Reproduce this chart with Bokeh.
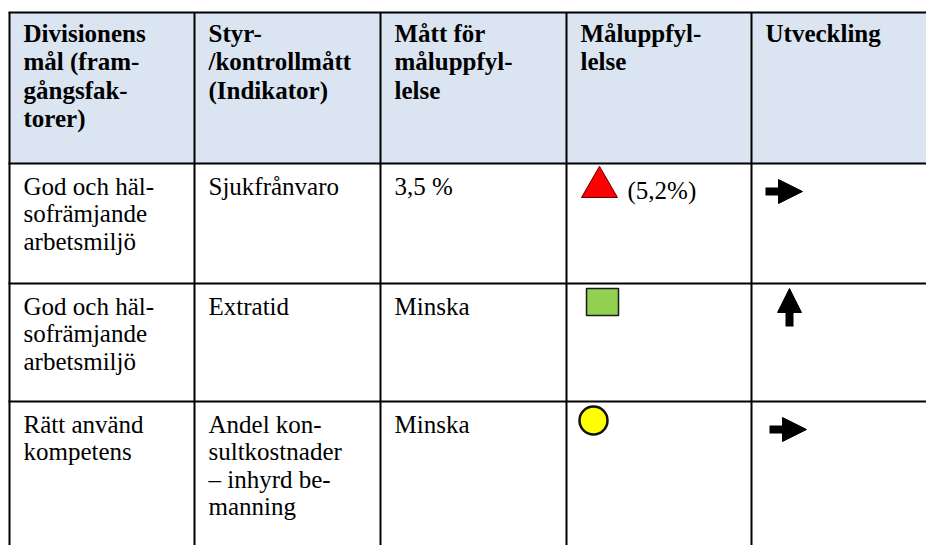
from bokeh.plotting import figure
from bokeh.models import Range1d, ColumnDataSource, Arrow, NormalHead
from bokeh.embed import file_html
from bokeh.resources import INLINE
from bokeh.core.properties import value

# ---------------- data ----------------
headers = [
    ["Divisionens", "mål (fram-", "gångsfak-", "torer)"],
    ["Styr-", "/kontrollmått", "(Indikator)"],
    ["Mått för", "måluppfyl-", "lelse"],
    ["Måluppfyl-", "lelse"],
    ["Utveckling"],
]
goals = [
    ["God och häl-", "sofrämjande", "arbetsmiljö"],
    ["God och häl-", "sofrämjande", "arbetsmiljö"],
    ["Rätt använd", "kompetens"],
]
indicators = [
    ["Sjukfrånvaro"],
    ["Extratid"],
    ["Andel kon-", "sultkostnader", "– inhyrd be-", "manning"],
]
targets = [["3,5 %"], ["Minska"], ["Minska"]]
status = ["triangle", "square", "circle"]          # måluppfyllelse symbol
status_colors = ["#FF0000", "#92D050", "#FFFF00"]
status_notes = ["(5,2%)", "", ""]
trends = ["right", "up", "right"]                  # utveckling

# ---------------- layout (pixels) ----------------
W, H = 926, 545
col_edges = [9, 194, 380, 566, 751]
right_edge = W
row_edges = [12, 163, 283, 401]
PAD_X = 14
FONT = "Liberation Serif"
FS = "25px"
HEAD_FIRST, HEAD_STEP = 21, 28.3
BODY_FIRST, BODY_STEP = 23, 27.3

p = figure(width=W, height=H, output_backend="svg", toolbar_location=None,
           x_range=Range1d(0, W), y_range=Range1d(H, 0), min_border=0,
           x_axis_location=None, y_axis_location=None)
p.grid.visible = False
p.outline_line_color = None
p.background_fill_color = "white"
p.border_fill_color = "white"

# header background
p.quad(left=[col_edges[0]], right=[right_edge], top=[row_edges[0]], bottom=[row_edges[1]],
       fill_color="#DBE5F1", line_color=None)

# header text
hx, hy, ht = [], [], []
for c, lines in enumerate(headers):
    for i, t in enumerate(lines):
        hx.append(col_edges[c] + PAD_X)
        hy.append(row_edges[0] + HEAD_FIRST + i * HEAD_STEP)
        ht.append(t)
p.text(x="x", y="y", text="text", source=ColumnDataSource(dict(x=hx, y=hy, text=ht)),
       text_font=value(FONT), text_font_size=FS, text_font_style="bold",
       text_color="#000000", text_baseline="alphabetic", text_align="left")

# body text
bx, by, bt = [], [], []
for r in range(3):
    top = row_edges[r + 1]
    for c, cell in enumerate([goals[r], indicators[r], targets[r]]):
        for i, t in enumerate(cell):
            bx.append(col_edges[c] + PAD_X)
            by.append(top + BODY_FIRST + i * BODY_STEP)
            bt.append(t)
    if status_notes[r]:
        bx.append(col_edges[3] + 61)
        by.append(top + 27)
        bt.append(status_notes[r])
p.text(x="x", y="y", text="text", source=ColumnDataSource(dict(x=bx, y=by, text=bt)),
       text_font=value(FONT), text_font_size=FS,
       text_color="#000000", text_baseline="alphabetic", text_align="left")

# status symbols
for r in range(3):
    top = row_edges[r + 1]
    if status[r] == "triangle":
        p.scatter(x=[col_edges[3] + 33], y=[top + 23.6], marker="triangle", size=36,
                  fill_color=status_colors[r], line_color="#600000", line_width=1)
    elif status[r] == "square":
        p.rect(x=[col_edges[3] + 36], y=[top + 18.5], width=32, height=27,
               fill_color=status_colors[r], line_color="#1a1a1a", line_width=1.5)
    else:
        p.scatter(x=[col_edges[3] + 27], y=[top + 19], marker="circle", size=28,
                  fill_color=status_colors[r], line_color="#111111", line_width=2.5)

# trend arrows
for r in range(3):
    top = row_edges[r + 1]
    x0 = col_edges[4] + (14 if r == 0 else 18)
    if trends[r] == "right":
        p.add_layout(Arrow(end=NormalHead(size=24, fill_color="black", line_color="black"),
                           x_start=x0, y_start=top + 28, x_end=x0 + 37, y_end=top + 28,
                           line_width=8, line_color="black"))
    else:
        p.add_layout(Arrow(end=NormalHead(size=24, fill_color="black", line_color="black"),
                           x_start=col_edges[4] + 38, y_start=top + 43,
                           x_end=col_edges[4] + 38, y_end=top + 5,
                           line_width=8, line_color="black"))

# grid lines
p.segment(x0=col_edges, y0=[row_edges[0]] * len(col_edges), x1=col_edges, y1=[H + 5] * len(col_edges),
          line_color="black", line_width=2)
p.segment(x0=[col_edges[0] - 1] * len(row_edges), y0=row_edges, x1=[right_edge + 5] * len(row_edges), y1=row_edges,
          line_color="black", line_width=2)

open("out.html", "w").write(file_html(p, INLINE))
